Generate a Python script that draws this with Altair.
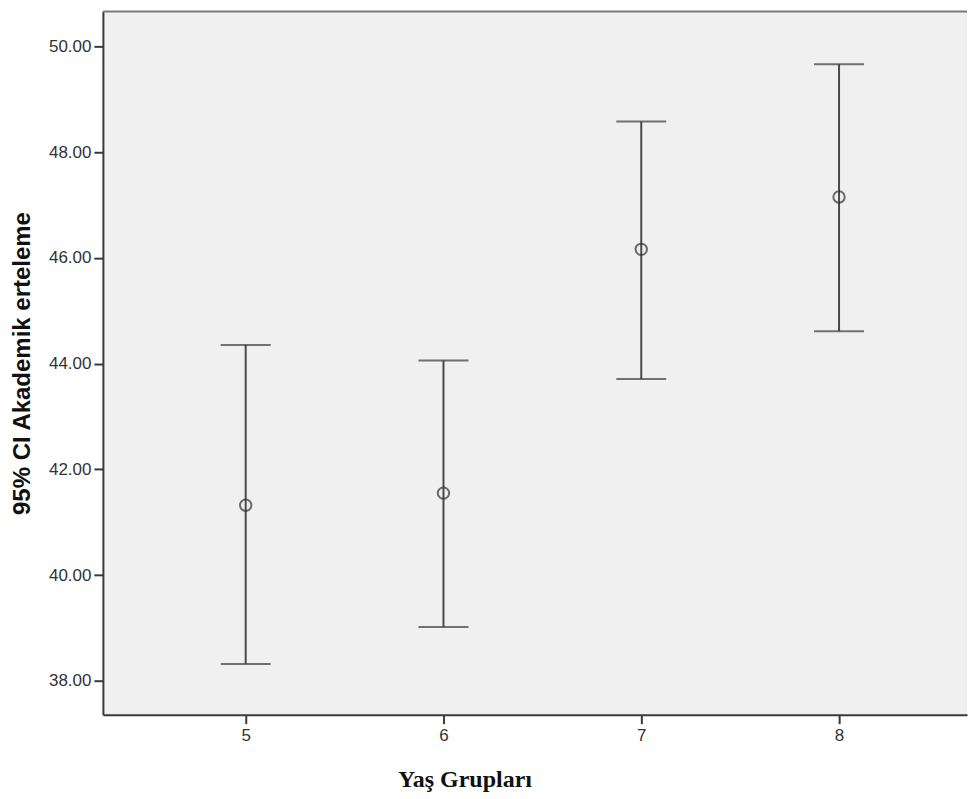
import altair as alt
import pandas as pd

groups = [5, 6, 7, 8]
means = [41.32, 41.55, 46.16, 47.15]
lower = [38.32, 39.02, 43.71, 44.61]
upper = [44.35, 44.06, 48.58, 49.66]

df = pd.DataFrame({"grp": groups, "mean": means, "lo": lower, "hi": upper})

W, H = 865, 704
XDOM = [4.278, 8.647]
YDOM = [37.36, 50.66]
INK = "#3a3a3a"

xenc = alt.X(
    "grp:Q",
    scale=alt.Scale(domain=XDOM, nice=False, zero=False),
    axis=alt.Axis(
        values=groups, format="d", title="Yaş Grupları", grid=False,
        titleFont="Liberation Serif", titleFontSize=24, titleFontWeight="bold",
        titleColor="#111", titlePadding=24, titleX=362, titleAlign="center",
        labelFont="Liberation Sans", labelFontSize=17, labelColor="#333",
        labelPadding=4, tickSize=9, tickWidth=2, tickColor=INK,
        domainColor=INK, domainWidth=2,
    ),
)
yscale = alt.Scale(domain=YDOM, nice=False, zero=False)
yaxis = alt.Axis(
    values=[38, 40, 42, 44, 46, 48, 50], format=".2f",
    title="95% CI Akademik erteleme", grid=False,
    titleFont="Liberation Sans", titleFontSize=24, titleFontWeight="bold",
    titleColor="#111", titlePadding=14,
    labelFont="Liberation Sans", labelFontSize=17, labelColor="#333",
    labelPadding=3, tickSize=9, tickWidth=2, tickColor=INK,
    domainColor=INK, domainWidth=2,
)

base = alt.Chart(df)

rules = base.mark_rule(color="#4a4a4a", strokeWidth=2).encode(
    x=xenc,
    y=alt.Y("lo:Q", scale=yscale, axis=yaxis),
    y2="hi:Q",
)
caps_lo = base.mark_tick(color=INK, orient="horizontal", size=50, thickness=2).encode(
    x="grp:Q", y="lo:Q"
)
caps_hi = base.mark_tick(color=INK, orient="horizontal", size=50, thickness=2).encode(
    x="grp:Q", y="hi:Q"
)
pts = base.mark_point(shape="circle", filled=False, size=130, strokeWidth=2, color="#333").encode(
    x="grp:Q", y="mean:Q"
)
# top frame line of the plot area
frame_top = alt.Chart(pd.DataFrame({"k": [0]})).mark_rule(color="#7a7a7a", strokeWidth=2).encode(
    x=alt.value(0), x2=alt.value(W), y=alt.value(0)
)

chart = (
    alt.layer(rules, caps_lo, caps_hi, pts, frame_top)
    .properties(width=W, height=H, padding={"left": 2, "top": 2, "right": 0, "bottom": 2})
    .configure_view(fill="#f0f0f0", stroke=None)
)

chart.save("out.html", embed_options={"renderer": "svg", "actions": False})
